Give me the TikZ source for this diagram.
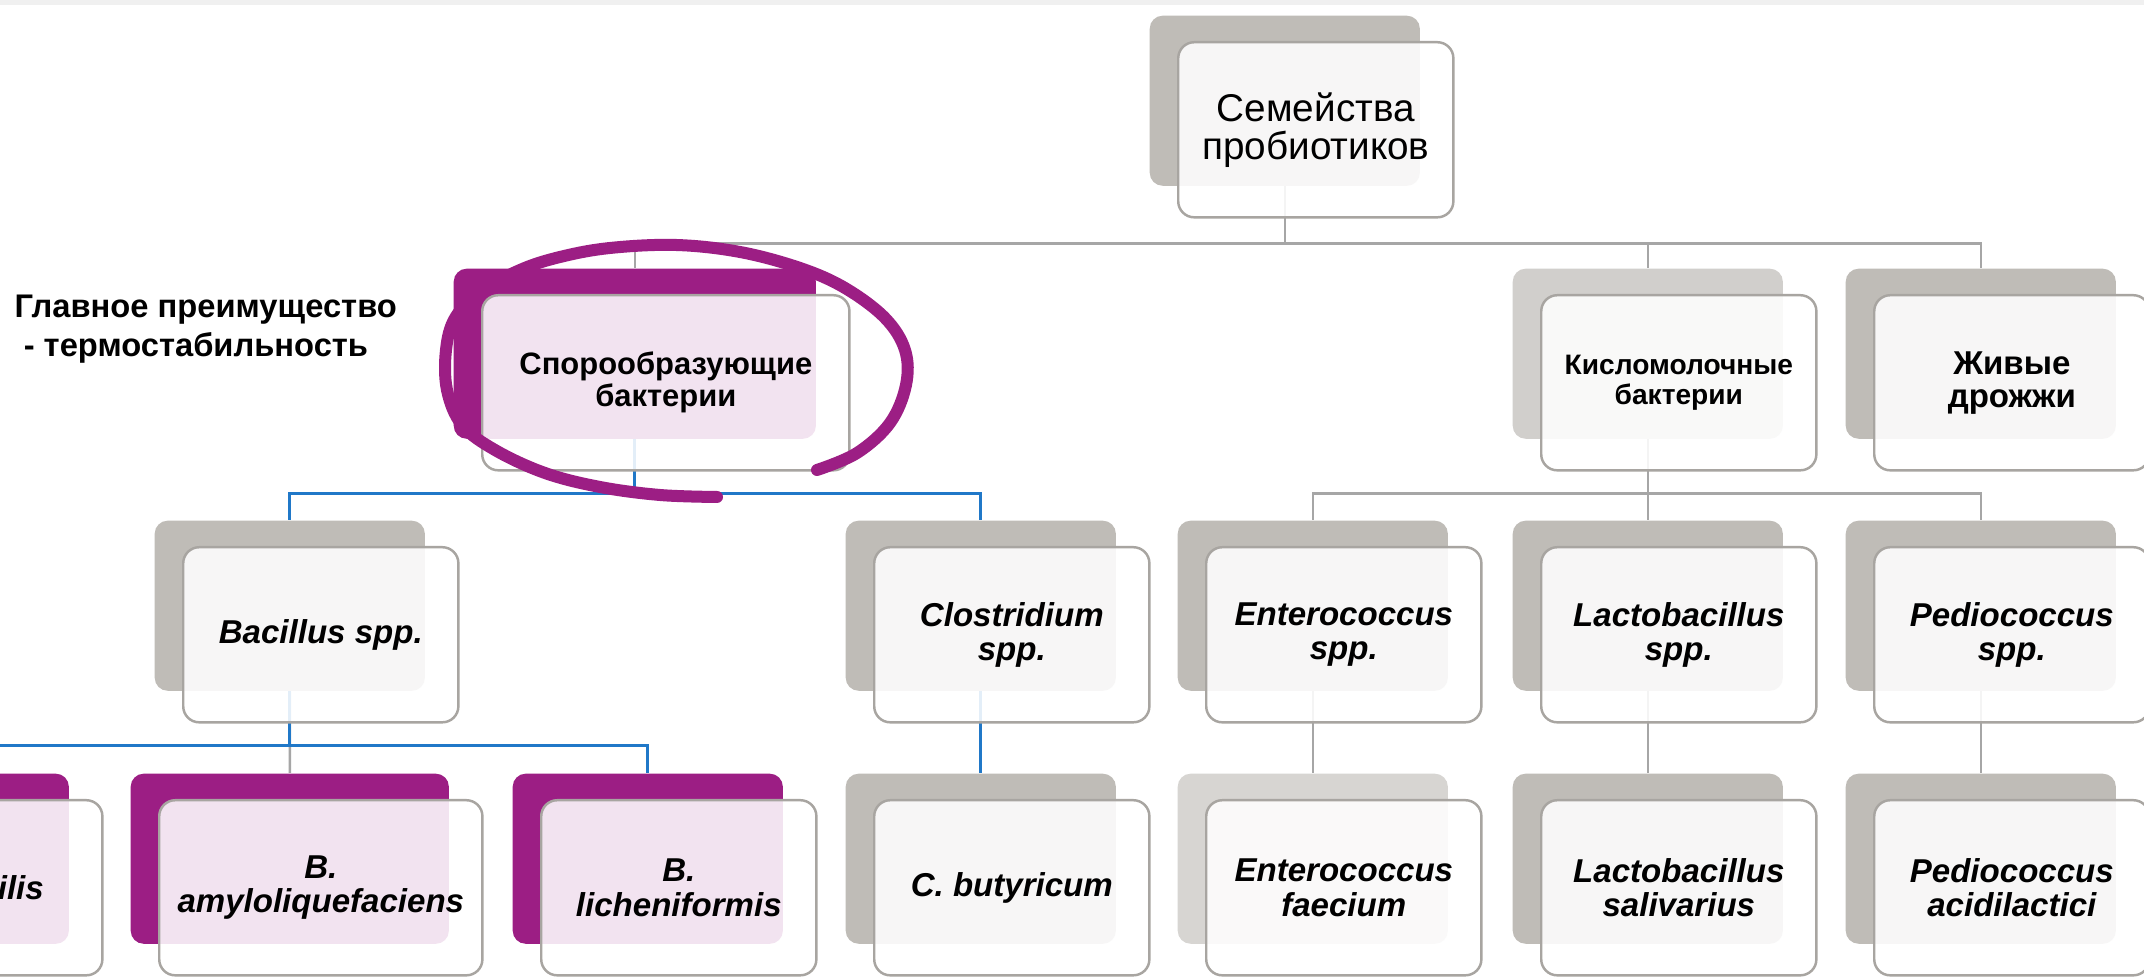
\documentclass[tikz,border=0pt]{standalone}
\usepackage{fontspec}
\setmainfont{Liberation Sans}
\usepackage{tikz}

\definecolor{backgray}{RGB}{191,188,183}
\definecolor{backlight}{RGB}{209,207,204}
\definecolor{backpale}{RGB}{215,213,210}
\definecolor{sporepurple}{RGB}{156,30,132}
\definecolor{edgegray}{RGB}{168,165,161}
\definecolor{linegray}{RGB}{166,166,166}
\definecolor{linkblue}{RGB}{32,120,200}
\definecolor{bandgray}{RGB}{240,240,240}

\begin{document}
\begin{tikzpicture}[
    x=0.01cm, y=-0.01cm,
    backbox/.style={
        rectangle,
        rounded corners=0.13cm,
        fill=backgray,
        inner sep=0pt,
        minimum width=2.70cm,
        minimum height=1.70cm,
        anchor=north west
    },
    frontbox/.style={
        rectangle,
        rounded corners=0.16cm,
        draw=edgegray,
        line width=0.7pt,
        fill=white,
        fill opacity=0.88,
        text opacity=1,
        inner sep=0pt,
        minimum width=2.75cm,
        minimum height=1.75cm,
        anchor=north west,
        align=center,
        font=\fontsize{9.4pt}{9.7pt}\selectfont\bfseries\itshape
    },
    link/.style={draw=linegray, line width=0.7pt},
    hilink/.style={draw=linkblue, line width=0.85pt}
]
    \useasboundingbox (0,0) rectangle (2144,980);
    \clip (0,0) rectangle (2144,980);
    \fill[white] (0,0) rectangle (2144,980);
    \fill[bandgray] (0,0) rectangle (2144,5);

    % =========================================================
    % BACK PLATES
    % =========================================================
    \node [backbox] (topB) at (1149,15) {};

    \node [backbox, fill=sporepurple, minimum width=3.62cm] (sporeB) at (453,268) {};
    \node [backbox, fill=backlight] (lacticB) at (1512,268) {};
    \node [backbox] (yeastB) at (1845,268) {};

    \node [backbox] (bacB) at (154,520) {};
    \node [backbox] (cloB) at (845,520) {};
    \node [backbox] (entB) at (1177,520) {};
    \node [backbox] (lacB) at (1512,520) {};
    \node [backbox] (pedB) at (1845,520) {};

    \node [backbox, fill=sporepurple] (subB) at (-202,773) {};
    \node [backbox, fill=sporepurple, minimum width=3.18cm] (amyB) at (130,773) {};
    \node [backbox, fill=sporepurple] (licB) at (512,773) {};
    \node [backbox] (butB) at (845,773) {};
    \node [backbox, fill=backpale] (faeB) at (1177,773) {};
    \node [backbox] (salB) at (1512,773) {};
    \node [backbox] (aciB) at (1845,773) {};

    % =========================================================
    % CONNECTORS (under the front cards)
    % =========================================================
    \draw [link] (topB.south) -- ++(0,57) -| (sporeB.north);
    \draw [link] (topB.south) -- ++(0,57) -| (lacticB.north);
    \draw [link] (topB.south) -- ++(0,57) -| (yeastB.north);

    \draw [link] (lacticB.south) -- ++(0,54) -| (entB.north);
    \draw [link] (lacticB.south) -- ++(0,54) -| (lacB.north);
    \draw [link] (lacticB.south) -- ++(0,54) -| (pedB.north);
    \draw [link] (entB.south) -- (faeB.north);
    \draw [link] (lacB.south) -- (salB.north);
    \draw [link] (pedB.south) -- (aciB.north);

    \draw [link] (bacB.south) -- (amyB.north);

    % highlighted branch of the spore formers
    \draw [hilink] (sporeB.south) -- ++(0,54) -| (bacB.north);
    \draw [hilink] (sporeB.south) -- ++(0,54) -| (cloB.north);
    \draw [hilink] (bacB.south) -- ++(0,54) -| (subB.north);
    \draw [hilink] (bacB.south) -- ++(0,54) -| (licB.north);
    \draw [hilink] (cloB.south) -- (butB.north);

    % =========================================================
    % FRONT CARDS WITH TEXT
    % =========================================================
    \node [frontbox, font=\fontsize{11pt}{10.8pt}\selectfont] (top) at ([shift={(28,26)}]topB.north west) {Семейства\\пробиотиков};

    \node [frontbox, minimum width=3.67cm, font=\fontsize{8.8pt}{9.1pt}\selectfont\bfseries] (spore) at ([shift={(28,26)}]sporeB.north west) {Спорообразующие\\бактерии};
    \node [frontbox, font=\fontsize{8pt}{8.5pt}\selectfont\bfseries] (lactic) at ([shift={(28,26)}]lacticB.north west) {Кисломолочные\\бактерии};
    \node [frontbox, font=\fontsize{9.4pt}{9.4pt}\selectfont\bfseries] (yeast) at ([shift={(28,26)}]yeastB.north west) {Живые\\дрожжи};

    \node [frontbox] (bac) at ([shift={(28,26)}]bacB.north west) {Bacillus spp.};
    \node [frontbox] (clo) at ([shift={(28,26)}]cloB.north west) {Clostridium\\spp.};
    \node [frontbox] (ent) at ([shift={(28,26)}]entB.north west) {Enterococcus\\spp.};
    \node [frontbox] (lac) at ([shift={(28,26)}]lacB.north west) {Lactobacillus\\spp.};
    \node [frontbox] (ped) at ([shift={(28,26)}]pedB.north west) {Pediococcus\\spp.};

    \node [frontbox] (sub) at ([shift={(28,26)}]subB.north west) {B. subtilis};
    \node [frontbox, minimum width=3.23cm] (amy) at ([shift={(28,26)}]amyB.north west) {B.\\amyloliquefaciens};
    \node [frontbox] (lic) at ([shift={(28,26)}]licB.north west) {B.\\licheniformis};
    \node [frontbox] (but) at ([shift={(28,26)}]butB.north west) {C. butyricum};
    \node [frontbox] (fae) at ([shift={(28,26)}]faeB.north west) {Enterococcus\\faecium};
    \node [frontbox] (sal) at ([shift={(28,26)}]salB.north west) {Lactobacillus\\salivarius};
    \node [frontbox] (aci) at ([shift={(28,26)}]aciB.north west) {Pediococcus\\acidilactici};

    % side remark
    \node [anchor=north west, inner sep=0pt, align=left, font=\fontsize{9.3pt}{11.1pt}\selectfont\bfseries] (note) at (14,294) {Главное преимущество\\\ - термостабильность};

    % hand-drawn ring round the spore formers
    \draw [sporepurple, line width=0.12cm, line cap=round, line join=round]
        plot [smooth, tension=0.6] coordinates {
            (817,470) (857,453) (890,423) (906,385) (905,350) (885,318)
            (845,288) (800,268) (740,252) (676,245) (610,248) (560,257)
            (520,270) (480,292) (455,318) (446,350) (447,390) (462,425)
            (495,450) (545,473) (600,487) (660,495) (717,497)};

\end{tikzpicture}
\end{document}
